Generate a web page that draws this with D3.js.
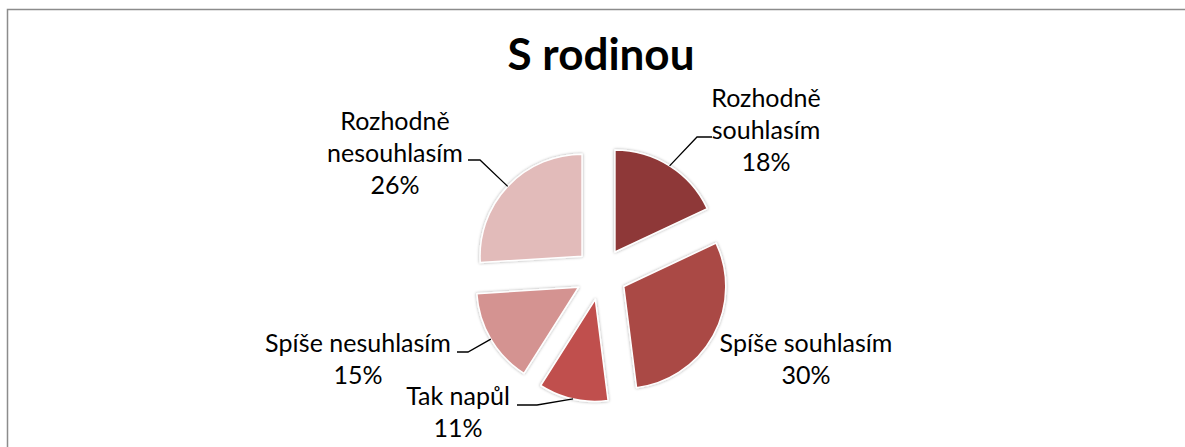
<!DOCTYPE html>
<html>
<head>
<meta charset="utf-8">
<script src="https://cdn.jsdelivr.net/npm/d3@7/dist/d3.min.js"></script>
<style>
  html, body { margin: 0; padding: 0; background: #fff; }
  svg { display: block; }
  text { font-family: Lato, "Open Sans", sans-serif; fill: #000; }
</style>
</head>
<body>
<svg id="chart" width="1185" height="447"></svg>
<script>
// ---- data ----
const title = "S rodinou";
const categories = ["Rozhodně souhlasím", "Spíše souhlasím", "Tak napůl", "Spíše nesuhlasím", "Rozhodně nesouhlasím"];
const values = [18, 30, 11, 15, 26];
const labelLines = [["Rozhodně", "souhlasím"], ["Spíše souhlasím"], ["Tak napůl"], ["Spíše nesuhlasím"], ["Rozhodně", "nesouhlasím"]];

// ---- styles / layout ----
const colors = ["#8E3937", "#AA4845", "#C0504D", "#D49391", "#E2BBBA"];
const cx = 601, cy = 274, radius = 102, explode = 26;
const lineH = 32;
// label block: center x, first baseline y, leader elbow, leader end (near text)
const labelLayout = [
  { x: 766, y: 107, elbow: [697, 137], end: [712, 137] },
  { x: 806, y: 352, elbow: null, end: null },
  { x: 458, y: 405, elbow: [537, 405], end: [517, 405] },
  { x: 358, y: 352, elbow: [468, 352], end: [457, 352] },
  { x: 395, y: 130, elbow: [480, 160], end: [468, 160] }
];

const svg = d3.select("#chart");

// border
svg.append("rect")
  .attr("x", 7.5).attr("y", 9.5)
  .attr("width", 1185).attr("height", 460)
  .attr("fill", "none").attr("stroke", "#8c8c8c").attr("stroke-width", 1.5);

const defs = svg.append("defs");
const f = defs.append("filter").attr("id", "sh").attr("x", "-20%").attr("y", "-20%").attr("width", "140%").attr("height", "140%");
f.append("feDropShadow").attr("dx", 0).attr("dy", 0).attr("stdDeviation", 1.6)
  .attr("flood-color", "#000").attr("flood-opacity", 0.35);

// title
svg.append("text")
  .attr("x", 601).attr("y", 70)
  .attr("text-anchor", "middle")
  .attr("font-weight", "bold")
  .attr("font-size", 44)
  .text(title);

const pie = d3.pie().sort(null).value(d => d)(values);
const arc = d3.arc().innerRadius(0).outerRadius(radius);

const g = svg.append("g").attr("transform", `translate(${cx},${cy})`);

function offset(d) {
  const a = (d.startAngle + d.endAngle) / 2;
  return [Math.sin(a) * explode, -Math.cos(a) * explode];
}

g.selectAll("path.slice")
  .data(pie)
  .join("path")
  .attr("class", "slice")
  .attr("transform", d => { const o = offset(d); return `translate(${o[0]},${o[1]})`; })
  .attr("d", arc)
  .attr("fill", (d, i) => colors[i])
  .attr("stroke", "#fff")
  .attr("stroke-width", 1.5)
  .attr("stroke-linejoin", "round")
  .attr("filter", "url(#sh)");

// leader lines
pie.forEach((d, i) => {
  const L = labelLayout[i];
  if (!L.elbow) return;
  const a = (d.startAngle + d.endAngle) / 2;
  const o = offset(d);
  const px = cx + o[0] + Math.sin(a) * radius;
  const py = cy + o[1] - Math.cos(a) * radius;
  svg.append("polyline")
    .attr("points", [[px, py], L.elbow, L.end].map(p => p.join(",")).join(" "))
    .attr("fill", "none").attr("stroke", "#000").attr("stroke-width", 1.3);
});

// labels
pie.forEach((d, i) => {
  const L = labelLayout[i];
  const lines = labelLines[i].concat([Math.round(d.value) + "%"]);
  const t = svg.append("text")
    .attr("text-anchor", "middle")
    .attr("font-size", 25);
  lines.forEach((s, k) => {
    t.append("tspan").attr("x", L.x).attr("y", L.y + k * lineH).text(s);
  });
});
</script>
</body>
</html>
